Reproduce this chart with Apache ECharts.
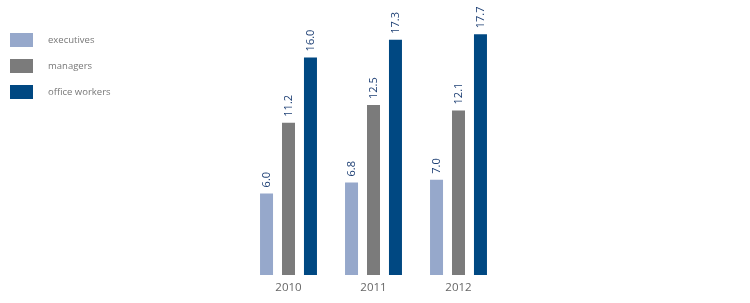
<!DOCTYPE html>
<html><head><meta charset="utf-8">
<script src="https://cdn.jsdelivr.net/npm/echarts@6/dist/echarts.min.js"></script>
<style>html,body{margin:0;padding:0;background:#fff}#c{width:750px;height:303px}</style>
</head><body><div id="c"></div>
<script>
const categories = ['2010', '2011', '2012'];
const executives = [6.0, 6.8, 7.0];
const managers = [11.2, 12.5, 12.1];
const officeWorkers = [16.0, 17.3, 17.7];

const chart = echarts.init(document.getElementById('c'), null, {renderer: 'canvas'});
const label = {
  show: true, position: 'top', rotate: 90, align: 'left', verticalAlign: 'middle',
  distance: 6, color: '#1d3f74', fontSize: 11, fontFamily: 'Open Sans',
  formatter: p => p.value.toFixed(1)
};
function s(name, data, color) {
  return {name, type: 'bar', data, barWidth: 13, barGap: '69%', itemStyle: {color}, label};
}
chart.setOption({
  animation: false,
  legend: {
    orient: 'vertical', left: 10, top: 33, padding: 0, itemWidth: 23, itemHeight: 14, itemGap: 12,
    icon: 'rect',
    textStyle: {color: '#777', fontSize: 9.5, fontFamily: 'Open Sans', padding: [0, 0, 0, 10]},
    data: ['executives', 'managers', 'office workers']
  },
  grid: {left: 246, width: 255, top: 3, bottom: 28},
  xAxis: {
    type: 'category', data: categories,
    axisLine: {show: false}, axisTick: {show: false},
    axisLabel: {color: '#666', fontSize: 11.5, fontFamily: 'Open Sans', margin: 7}
  },
  yAxis: {type: 'value', min: 0, max: 20, show: false, splitLine: {show: false}},
  series: [
    s('executives', executives, '#96a8cb'),
    s('managers', managers, '#7b7b7b'),
    s('office workers', officeWorkers, '#004882')
  ]
});
</script></body></html>
